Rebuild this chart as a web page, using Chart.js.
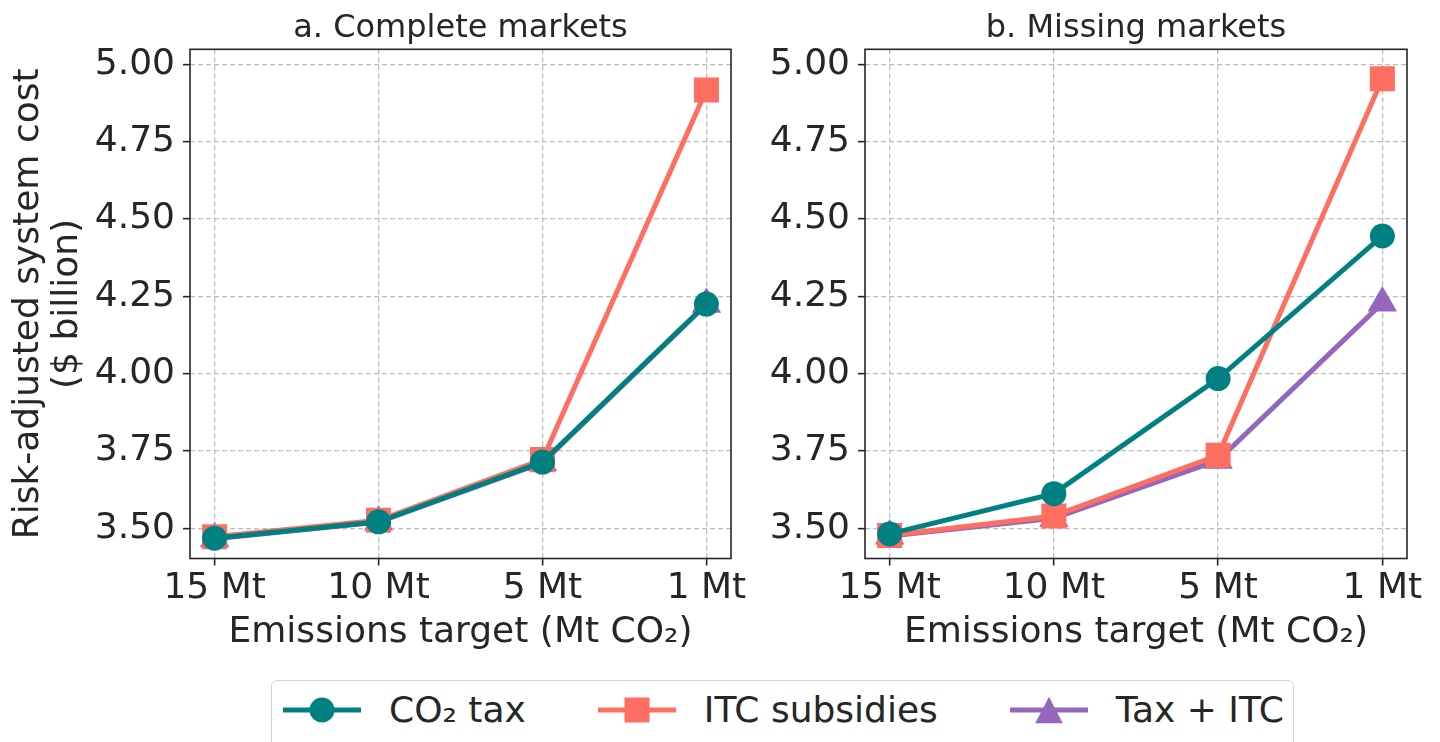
<!DOCTYPE html>
<html>
<head>
<meta charset="utf-8">
<script src="https://cdn.jsdelivr.net/npm/chart.js@4/dist/chart.umd.min.js"></script>
<style>
  html, body { margin: 0; padding: 0; background: #ffffff; width: 1440px; height: 742px; overflow: hidden; }
  body { font-family: "DejaVu Sans", sans-serif; color: #262626; }
  .panel { position: absolute; top: 0; height: 680px; }
  #panelA { left: 0; width: 760px; }
  #panelB { left: 760px; width: 680px; }
  #legendBox {
    position: absolute; left: 271px; top: 680px; width: 1023px; height: 90px;
    border: 1.6px solid #d4d4d4; border-radius: 6px; box-sizing: border-box; background: #fff;
  }
  #legendRow {
    position: absolute; left: 283px; top: 692px; height: 36px;
    display: flex; align-items: center; white-space: nowrap;
  }
  .legItem { display: flex; align-items: center; margin-right: 72px; }
  .legItem:last-child { margin-right: 0; }
  .legItem svg { display: block; margin-right: 28px; }
  .legItem span { font-size: 36px; line-height: 36px; color: #262626; }
</style>
</head>
<body>
<div class="panel" id="panelA"><canvas id="chartA" width="760" height="680"></canvas></div>
<div class="panel" id="panelB"><canvas id="chartB" width="680" height="680"></canvas></div>
<div id="legendBox"></div>
<div id="legendRow"></div>

<script>
// Emissions targets along the x axis
const targets = ['15 Mt', '10 Mt', '5 Mt', '1 Mt'];
// y tick values ($ billion)
const yTickValues = [3.50, 3.75, 4.00, 4.25, 4.50, 4.75, 5.00];

// Policy names
const seriesNames = ['CO₂ tax', 'ITC subsidies', 'Tax + ITC'];

// a. Complete markets — risk-adjusted system cost ($ billion)
const completeCO2Tax = [3.468, 3.521, 3.714, 4.225];
const completeITC    = [3.473, 3.526, 3.722, 4.917];
const completeTaxITC = [3.466, 3.520, 3.712, 4.224];

// b. Missing markets — risk-adjusted system cost ($ billion)
const missingCO2Tax = [3.482, 3.612, 3.984, 4.445];
const missingITC    = [3.477, 3.540, 3.736, 4.953];
const missingTaxITC = [3.475, 3.532, 3.720, 4.228];

const FONT = '"DejaVu Sans"';
const TEXT = '#262626';
const GRID = '#bdbdbd';
const styles = [
  { color: '#008080', pointStyle: 'circle',   radius: 12.5 },
  { color: '#FF6F61', pointStyle: 'rect',     radius: 17.7 },
  { color: '#9467BD', pointStyle: 'triangle', radius: 17 }
];

// Axes frame drawn on all four sides
const frameBox = {
  id: 'frameBox',
  afterDatasetsDraw(chart) {
    const { ctx, chartArea: a } = chart;
    ctx.save();
    ctx.strokeStyle = TEXT;
    ctx.lineWidth = 1.6;
    ctx.strokeRect(a.left, a.top, a.right - a.left, a.bottom - a.top);
    ctx.restore();
  }
};

// Panel heading centred over the plot area
const panelTitle = {
  id: 'panelTitle',
  afterDraw(chart, args, opts) {
    const { ctx, chartArea: a } = chart;
    ctx.save();
    ctx.font = '32px ' + FONT;
    ctx.fillStyle = TEXT;
    ctx.textAlign = 'center';
    ctx.textBaseline = 'alphabetic';
    ctx.fillText(opts.text, (a.left + a.right) / 2, a.top - 12);
    ctx.restore();
  }
};

function toPoints(values) {
  return values.map((v, i) => ({ x: i, y: v }));
}

function makePanel(canvasId, heading, seriesValues, yAxisWidth, padRight, showYTitle) {
  const datasets = seriesValues.map((vals, k) => ({
    label: seriesNames[k],
    data: toPoints(vals),
    borderColor: styles[k].color,
    backgroundColor: styles[k].color,
    borderWidth: 5,
    pointStyle: styles[k].pointStyle,
    pointRadius: styles[k].radius,
    pointHoverRadius: styles[k].radius,
    pointBorderWidth: 0,
    tension: 0
  }));

  const tickFont = { family: FONT, size: 36 };

  return new Chart(document.getElementById(canvasId), {
    type: 'line',
    data: { datasets },
    plugins: [frameBox, panelTitle],
    options: {
      responsive: false,
      animation: false,
      events: [],
      layout: { padding: { top: 49.3, right: padRight, left: 0, bottom: 0 } },
      plugins: {
        legend: { display: false },
        tooltip: { enabled: false },
        panelTitle: { text: heading }
      },
      scales: {
        x: {
          type: 'linear',
          min: -0.15,
          max: 3.15,
          afterBuildTicks: s => { s.ticks = targets.map((_, i) => ({ value: i })); },
          ticks: {
            callback: v => targets[v],
            font: tickFont, color: TEXT, padding: 2,
            maxRotation: 0, autoSkip: false
          },
          grid: {
            color: GRID, lineWidth: 1.3,
            tickColor: TEXT, tickWidth: 1.6, tickLength: 7, drawTicks: true
          },
          border: { display: false, dash: [5, 3] },
          title: {
            display: true,
            text: 'Emissions target (Mt CO₂)',
            font: { family: FONT, size: 36, lineHeight: 1.2 },
            color: TEXT,
            padding: { top: 0, bottom: 26 }
          },
          afterFit: s => { s.height = 680 - 558.5; s.paddingLeft = 0; s.paddingRight = 0; }
        },
        y: {
          type: 'linear',
          min: 3.4024,
          max: 5.0485,
          afterBuildTicks: s => { s.ticks = yTickValues.map(v => ({ value: v })); },
          ticks: {
            callback: v => Number(v).toFixed(2),
            font: tickFont, color: TEXT, padding: 8
          },
          grid: {
            color: GRID, lineWidth: 1.3,
            tickColor: TEXT, tickWidth: 1.6, tickLength: 7, drawTicks: true
          },
          border: { display: false, dash: [5, 3] },
          title: {
            display: showYTitle,
            text: ['Risk-adjusted system cost', '($ billion)'],
            font: { family: FONT, size: 36, lineHeight: 1.083 },
            color: TEXT,
            padding: { top: 9.5, bottom: 0 }
          },
          afterFit: s => { s.width = yAxisWidth; s.paddingTop = 0; s.paddingBottom = 0; }
        }
      }
    }
  });
}

makePanel('chartA', 'a. Complete markets',
  [completeCO2Tax, completeITC, completeTaxITC], 190, 29, true);
makePanel('chartB', 'b. Missing markets',
  [missingCO2Tax, missingITC, missingTaxITC], 105, 33, false);

// Legend row built from the series styles
function markerSvg(style) {
  const c = style.color;
  let mark = '';
  if (style.pointStyle === 'circle') {
    mark = `<circle cx="39" cy="15" r="12.5" fill="${c}"/>`;
  } else if (style.pointStyle === 'rect') {
    mark = `<rect x="26.5" y="2.5" width="25" height="25" fill="${c}"/>`;
  } else {
    mark = `<polygon points="39,1.7 52.8,28.3 25.2,28.3" fill="${c}"/>`;
  }
  return `<svg width="78" height="30" viewBox="0 0 78 30">` +
         `<line x1="0" y1="15" x2="78" y2="15" stroke="${c}" stroke-width="5"/>` +
         mark + `</svg>`;
}
const legendRow = document.getElementById('legendRow');
seriesNames.forEach((name, k) => {
  const item = document.createElement('div');
  item.className = 'legItem';
  item.innerHTML = markerSvg(styles[k]);
  const span = document.createElement('span');
  span.textContent = name;
  item.appendChild(span);
  legendRow.appendChild(item);
});
</script>
</body>
</html>
